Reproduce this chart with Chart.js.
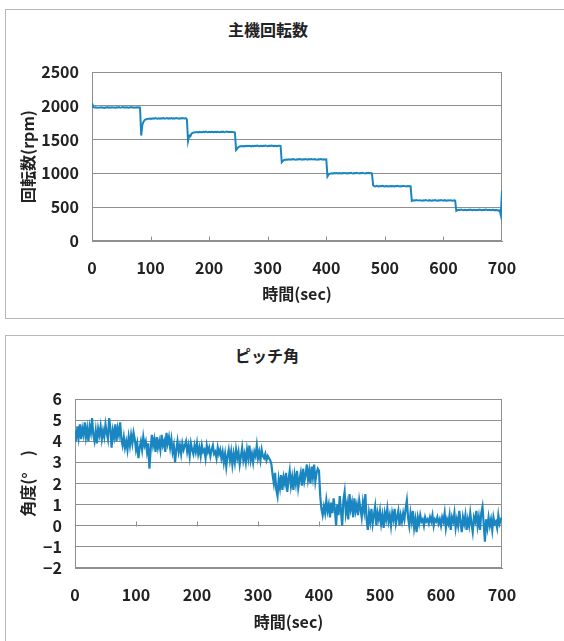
<!DOCTYPE html>
<html><head><meta charset="utf-8">
<script src="https://cdn.jsdelivr.net/npm/chart.js@4"></script>
<style>
body{margin:0;background:#fff;width:564px;height:641px;overflow:hidden;position:relative;font-family:"Noto Sans CJK JP",sans-serif}
.box{position:absolute;border:1px solid #b8b8b8}
#box1{left:5px;top:9px;width:580px;height:308px}
#box2{left:5px;top:335px;width:580px;height:330px}
.ttl{position:absolute;font-weight:bold;font-size:16px;color:#222;transform:translate(-50%,-50%);white-space:nowrap}
canvas{position:absolute;left:0}
</style></head><body>
<div class="box" id="box1"></div><div class="box" id="box2"></div>
<div class="ttl" style="left:268px;top:29px">主機回転数</div>
<div class="ttl" style="left:267px;top:355px">ピッチ角</div>
<canvas id="c1" width="564" height="320" style="top:0"></canvas>
<canvas id="c2" width="564" height="321" style="top:320px"></canvas>
<script>
// sample interval of the recorded series (sec)
const sampleInterval = 2;
const xTickValues = [0, 100, 200, 300, 400, 500, 600, 700];
const rpmTicks = [0, 500, 1000, 1500, 2000, 2500];
const pitchTicks = [-2, -1, 0, 1, 2, 3, 4, 5, 6];

// 主機回転数 (rpm), one value every 2 s from 0 to 700 s
const rpmValues = [
2040,1985,1975,1978,1972,1976,1970,1974,1978,1972,
1975,1970,1976,1980,1973,1977,1971,1979,1974,1976,
1972,1978,1975,1980,1973,1977,1982,1975,1979,1974,
1978,1972,1976,1980,1974,1978,1972,1976,1979,1975,
1977,1974,1560,1720,1765,1790,1800,1805,1810,1808,
1812,1806,1815,1810,1818,1812,1808,1815,1810,1816,
1812,1818,1809,1814,1820,1811,1816,1813,1819,1810,
1815,1812,1818,1814,1810,1817,1813,1820,1815,1811,
1818,1800,1480,1560,1550,1590,1600,1605,1610,1608,
1612,1606,1614,1610,1608,1615,1611,1618,1612,1609,
1614,1610,1616,1612,1608,1615,1611,1617,1613,1610,
1615,1612,1618,1610,1614,1620,1612,1616,1611,1614,
1612,1610,1605,1345,1365,1390,1398,1402,1405,1400,
1406,1402,1408,1404,1410,1405,1400,1408,1403,1410,
1405,1412,1406,1402,1409,1404,1410,1406,1412,1407,
1403,1410,1405,1412,1408,1404,1410,1406,1402,1408,
1410,1405,1165,1185,1198,1203,1206,1202,1208,1204,
1210,1205,1212,1207,1203,1210,1206,1212,1208,1204,
1210,1206,1213,1208,1204,1211,1207,1214,1209,1205,
1212,1207,1203,1210,1206,1212,1208,1204,1210,1206,
1208,955,985,995,1000,1003,998,1005,1001,1004,
1000,1006,1002,998,1005,1001,1007,1003,999,1006,
1002,1008,1003,999,1006,1002,1010,1004,1000,1007,
1003,1009,1004,1000,1006,1002,1008,1004,1005,1000,
825,812,808,815,810,806,813,809,815,811,
807,814,810,806,812,808,815,811,807,813,
809,815,811,807,813,809,816,812,808,814,
810,812,808,592,598,602,599,605,601,598,
604,600,597,603,599,606,601,597,604,600,
596,603,599,605,600,596,603,599,605,601,
597,604,600,596,602,598,604,600,597,603,
599,445,455,462,458,465,460,456,463,459,
455,462,458,464,460,456,463,459,455,462,
458,464,460,456,462,458,465,461,457,463,
459,455,462,458,452,460,456,450,455,380,
750];

// ピッチ角 (deg), one value every 2 s from 0 to 700 s
const pitchValues = [
4.5,4.0,4.7,4.2,4.8,4.1,4.6,4.3,4.9,4.2,
4.6,4.0,4.7,4.4,5.1,4.3,4.0,4.5,3.9,4.6,
4.3,4.7,4.1,4.5,4.2,4.8,4.4,4.1,5.1,4.6,
3.7,4.5,4.2,4.8,4.0,4.6,4.3,4.9,4.1,3.8,
4.2,3.7,4.0,3.6,4.2,3.8,4.3,3.9,4.4,4.1,
3.6,3.9,3.2,3.7,4.0,3.6,4.2,3.8,4.0,3.5,
3.9,2.7,3.6,4.3,3.8,4.1,3.5,4.2,3.7,4.0,
3.6,4.3,3.8,4.0,3.5,4.4,3.9,4.2,3.7,4.1,
3.5,3.8,3.0,3.6,4.0,3.5,3.8,3.4,3.9,3.6,
3.8,4.0,3.5,3.8,3.3,3.9,3.6,3.4,3.8,3.5,
3.9,3.4,3.7,3.3,3.8,3.5,3.6,3.2,3.8,3.5,
3.7,3.3,3.6,3.8,3.4,3.5,3.2,3.7,3.4,3.6,
3.2,3.5,3.0,3.4,2.8,3.3,3.6,3.1,3.5,2.9,
3.4,3.0,3.6,3.2,3.5,2.9,3.3,3.7,3.1,3.4,
3.0,3.6,3.2,3.8,3.1,3.4,3.0,3.5,3.3,3.8,
3.2,3.5,3.1,3.6,3.3,3.2,3.4,3.1,3.3,3.2,
3.1,2.9,2.4,2.0,2.5,1.7,1.4,2.2,1.8,2.4,
1.7,2.3,2.0,2.5,1.6,2.2,2.6,1.9,2.3,1.7,
2.4,2.0,2.6,1.8,2.2,2.5,1.9,2.7,2.1,2.4,
2.9,2.2,2.6,2.0,2.8,2.3,2.9,2.1,2.5,2.7,
2.6,1.4,0.8,0.5,0.9,0.6,1.2,0.7,1.0,0.4,
1.1,0.6,1.3,0.8,0.0,1.0,0.5,1.4,0.7,0.0,
1.2,1.6,0.6,1.0,0.3,1.5,0.8,1.1,0.4,1.3,
0.7,1.0,0.5,1.2,0.8,0.4,1.1,0.7,1.5,0.3,
-0.2,0.6,0.2,0.8,0.1,0.5,0.9,0.0,0.6,0.3,
0.7,0.1,0.5,-0.1,0.6,0.3,0.8,0.2,0.5,0.0,
0.6,0.3,0.8,0.1,0.4,0.7,0.0,0.5,0.2,0.6,
0.3,0.8,1.2,0.4,0.0,0.6,0.2,0.7,-0.1,0.3,
-0.3,0.4,0.1,0.5,0.2,0.3,0.0,0.4,0.2,0.3,
0.1,0.4,0.2,0.5,0.0,0.3,0.2,0.4,0.1,0.3,
0.0,0.4,0.2,0.6,-0.1,0.3,0.1,0.5,-0.2,0.4,
0.2,0.6,-0.1,0.3,0.0,0.7,0.2,-0.3,0.4,0.1,
0.5,-0.2,0.3,0.0,0.6,0.1,-0.3,0.4,0.2,0.7,
0.0,0.4,-0.2,0.6,0.9,0.1,-0.75,0.3,-0.1,0.4,
0.0,0.3,-0.2,0.4,0.1,0.2,-0.1,0.5,0.1,0.3,
0.4];

const LINE = '#1a86c1';
const GRID = '#8e8e8e';
const TXT = '#222';
const FONT = {family: '"Noto Sans CJK JP", "Liberation Sans", sans-serif', size: 16, weight: 'bold'};

const frameTicks = {
  id: 'frameTicks',
  beforeDatasetsDraw(chart) {
    const {ctx, chartArea: a, scales: {x, y}} = chart;
    ctx.save();
    ctx.strokeStyle = GRID;
    ctx.lineWidth = 1;
    ctx.strokeRect(Math.round(a.left) + 0.5, Math.round(a.top) + 0.5, Math.round(a.width) - 1, Math.round(a.height) - 1);
    const y0 = Math.round(y.getPixelForValue(0)) + 0.5;
    ctx.beginPath();
    x.ticks.forEach(t => {
      if (t.value > x.min && t.value < x.max) {
        const px = Math.round(x.getPixelForValue(t.value)) + 0.5;
        ctx.moveTo(px, y0);
        ctx.lineTo(px, y0 - 5);
      }
    });
    ctx.stroke();
    ctx.restore();
  }
};

function makeChart(id, values, yTicks, yTitle, xTitle, g) {
  const pts = values.map((v, i) => ({x: i * sampleInterval, y: v}));
  return new Chart(document.getElementById(id), {
    type: 'line',
    data: {datasets: [{data: pts, borderColor: LINE, borderWidth: g.lw, pointRadius: 0, tension: 0, fill: false}]},
    options: {
      responsive: false, animation: false, events: [],
      layout: {padding: {left: 10, right: 62, top: g.top, bottom: 0}},
      plugins: {legend: {display: false}, tooltip: {enabled: false}, title: {display: false}},
      scales: {
        x: {
          type: 'linear', min: xTickValues[0], max: xTickValues[xTickValues.length - 1],
          afterBuildTicks: s => { s.ticks = xTickValues.map(v => ({value: v})); },
          ticks: {padding: 17, font: FONT, color: TXT, maxRotation: 0, autoSkip: false},
          grid: {display: false, drawTicks: false},
          border: {display: true, color: GRID, width: 1},
          title: {display: true, text: xTitle, font: FONT, color: TXT, padding: {top: 0, bottom: g.xTitlePad}},
          afterFit: s => { s.height = g.xH; }
        },
        y: {
          min: yTicks[0], max: yTicks[yTicks.length - 1],
          afterBuildTicks: s => { s.ticks = yTicks.map(v => ({value: v})); },
          ticks: {padding: 13, font: FONT, color: TXT, autoSkip: false,
            callback: v => String(v).replace('-', '\u2212')},
          grid: {color: GRID, lineWidth: 1, drawTicks: false},
          border: {display: true, color: GRID, width: 1},
          title: {display: true, text: yTitle, font: FONT, color: TXT, padding: {top: 8, bottom: 0}},
          afterFit: s => { s.width = g.yW; }
        }
      }
    },
    plugins: [frameTicks]
  });
}

makeChart('c1', rpmValues, rpmTicks, '回転数(rpm)', '時間(sec)', {top: 72, xH: 79, yW: 82, xTitlePad: 16, lw: 2});
makeChart('c2', pitchValues, pitchTicks, '角度(°\u3000)', '時間(sec)', {top: 79, xH: 73, yW: 65, xTitlePad: 9, lw: 2.2});
</script>
</body></html>
